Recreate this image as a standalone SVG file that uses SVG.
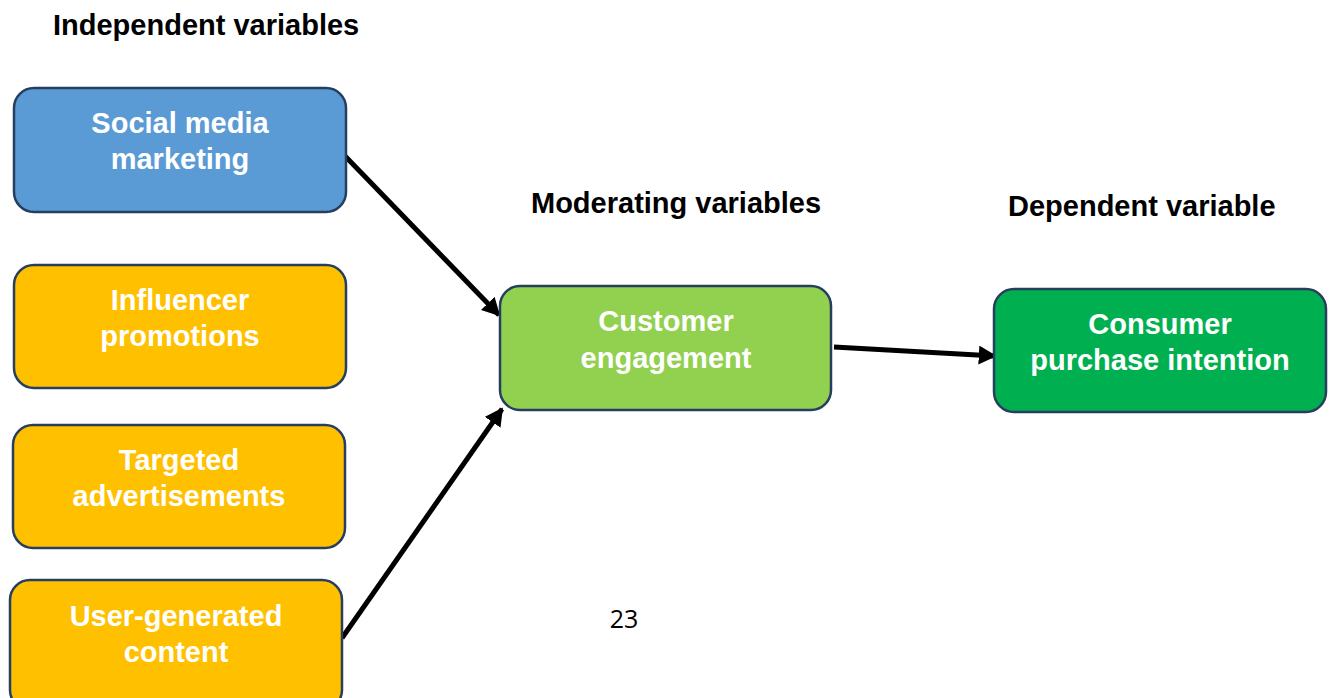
<svg xmlns="http://www.w3.org/2000/svg" width="1332" height="698" viewBox="0 0 1332 698">
  <defs>
    <style>
      .box { stroke: #263f5e; stroke-width: 2.5; }
      .label { font-family: "Liberation Sans", Arial, sans-serif; font-weight: bold; font-size: 29px; fill: #ffffff; text-anchor: middle; }
      .heading { font-family: "Liberation Sans", Arial, sans-serif; font-weight: bold; font-size: 29px; fill: #000000; }
      .link { stroke: #000000; stroke-width: 5; fill: none; marker-end: url(#head); }
    </style>
    <marker id="head" viewBox="0 0 10 10" refX="9" refY="5" markerWidth="3.6" markerHeight="3.8" orient="auto" markerUnits="strokeWidth" preserveAspectRatio="none">
      <path d="M0,0 L10,5 L0,10 z" fill="#000000"/>
    </marker>
  </defs>

  <rect width="1332" height="698" fill="#ffffff"/>

  <!-- column headings -->
  <text class="heading" x="53" y="35">Independent variables</text>
  <text class="heading" x="531" y="213">Moderating variables</text>
  <text class="heading" x="1008" y="216">Dependent variable</text>

  <!-- page number -->
  <text x="624" y="628" font-family="'Open Sans', 'Liberation Sans', sans-serif" font-size="25" text-anchor="middle" fill="#000000">23</text>

  <!-- connectors -->
  <g id="connectors">
    <line class="link" x1="345" y1="156" x2="499" y2="315"/>
    <line class="link" x1="342" y1="638" x2="502" y2="409"/>
    <line class="link" x1="834" y1="347" x2="995" y2="356"/>
  </g>

  <g id="social-media-marketing">
    <rect class="box" x="14" y="88" width="332" height="124" rx="20" fill="#5b9bd5"/>
    <text class="label" x="180" y="133">Social media</text>
    <text class="label" x="180" y="169">marketing</text>
  </g>

  <g id="influencer-promotions">
    <rect class="box" x="14" y="265" width="332" height="123" rx="20" fill="#ffc000"/>
    <text class="label" x="180" y="310">Influencer</text>
    <text class="label" x="180" y="346">promotions</text>
  </g>

  <g id="targeted-advertisements">
    <rect class="box" x="13" y="425" width="332" height="123" rx="20" fill="#ffc000"/>
    <text class="label" x="179" y="470">Targeted</text>
    <text class="label" x="179" y="506">advertisements</text>
  </g>

  <g id="user-generated-content">
    <rect class="box" x="10" y="580" width="332" height="130" rx="20" fill="#ffc000"/>
    <text class="label" x="176" y="626">User-generated</text>
    <text class="label" x="176" y="662">content</text>
  </g>

  <g id="customer-engagement">
    <rect class="box" x="500" y="286" width="331" height="124" rx="20" fill="#92d050"/>
    <text class="label" x="666" y="331">Customer</text>
    <text class="label" x="666" y="368">engagement</text>
  </g>

  <g id="consumer-purchase-intention">
    <rect class="box" x="994" y="289" width="332" height="123" rx="20" fill="#00b050"/>
    <text class="label" x="1160" y="334">Consumer</text>
    <text class="label" x="1160" y="370">purchase intention</text>
  </g>
</svg>
